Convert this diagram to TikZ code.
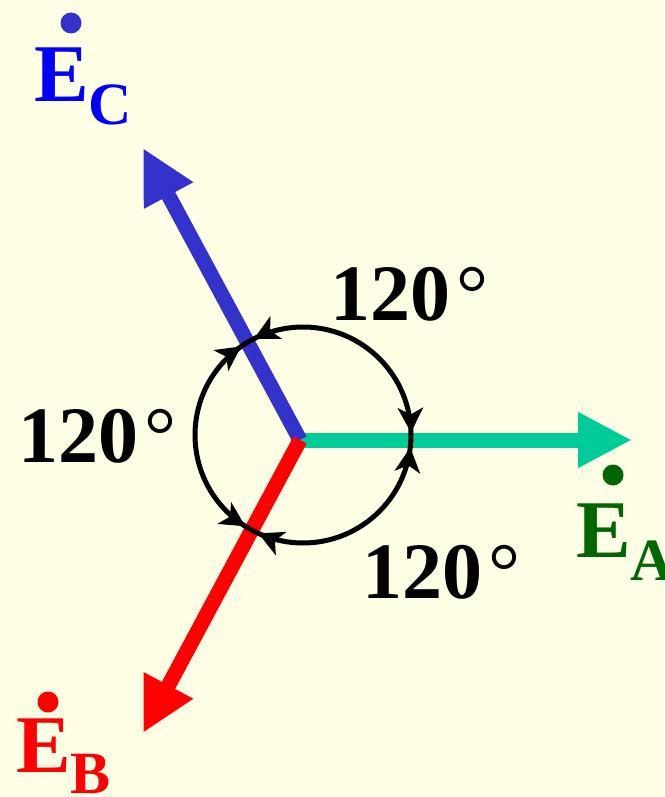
\documentclass[tikz,border=0pt]{standalone}
\usepackage{fontspec}
\setmainfont{Liberation Serif}
\usetikzlibrary{arrows.meta}
\definecolor{paper}{HTML}{FFFFE6}
\definecolor{phaseA}{HTML}{00CC99}
\definecolor{phaseB}{HTML}{FF0000}
\definecolor{phaseC}{HTML}{3333CC}
\definecolor{labelA}{HTML}{006600}
\definecolor{labelC}{HTML}{0000FF}

\begin{document}
\begin{tikzpicture}[x=1pt, y=1pt,
  vec/.style={line width=15pt, -{Triangle[length=54pt, width=52pt]}},
  ring/.style={line width=5pt},
  ang/.style={anchor=base west, inner sep=0pt, font=\fontsize{80}{80}\selectfont\bfseries},
  phasor/.style={anchor=base west, inner sep=0pt, font=\fontsize{82}{82}\selectfont\bfseries}
]
  \fill[paper] (0,0) rectangle (664,-797);
  \useasboundingbox (0,0) rectangle (664,-797);

  \coordinate (o) at (300,-440);
  \coordinate (ctr) at (303,-435);
  \coordinate (a) at (632,-440);
  \coordinate (b) at (143,-733);
  \coordinate (c) at (143,-148);

  \draw[vec, phaseA] (o) -- (a);
  \draw[vec, phaseC] (o) -- (c);
  \draw[vec, phaseB] (o) -- (b);

  \draw[ring] (ctr) circle[radius=108];
  \foreach \t/\r in {1.33/-88.67, 116.94/206.94, 124.92/34.92, 237.69/327.69, 245.65/155.65, 353.35/83.35}
    \fill[shift={(ctr)}, shift={(\t:108)}, rotate=\r] (0,0) -- (-25,13) -- (-18,0) -- (-25,-13) -- cycle;

  \node[ang] (angAC) at (330,-320) {120\hspace{6pt}{\mdseries °}};
  \node[ang] (angCB) at (18,-462) {120\hspace{6pt}{\mdseries °}};
  \node[ang] (angBA) at (362,-598) {120\hspace{6pt}{\mdseries °}};

  \node[phasor, labelC] (ec) at (34,-102) {E\raisebox{-23pt}{\fontsize{60}{60}\selectfont C}};
  \node[phasor, labelA] (ea) at (576,-557) {E\raisebox{-23pt}{\fontsize{60}{60}\selectfont A}};
  \node[phasor, phaseB] (eb) at (16,-772) {E\raisebox{-21pt}{\fontsize{60}{60}\selectfont B}};
  \fill[phaseC] (71,-23) circle[radius=10.5];
  \fill[labelA] (613,-475) circle[radius=10.5];
  \fill[phaseB] (48,-702) circle[radius=10.5];
\end{tikzpicture}
\end{document}
